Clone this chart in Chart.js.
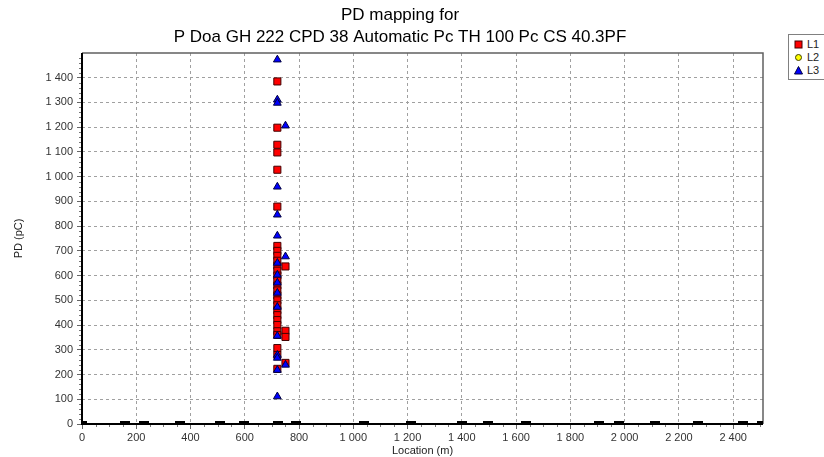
<!DOCTYPE html>
<html>
<head>
<meta charset="utf-8">
<script src="https://cdn.jsdelivr.net/npm/chart.js@4/dist/chart.umd.min.js"></script>
<style>
  html, body { margin: 0; padding: 0; background: #fff; overflow: hidden; }
  #wrap { position: relative; width: 824px; height: 457px; }
  #legend { position: absolute; left: 788px; top: 34px; width: 40px; height: 46px;
            border: 1px solid #808080; background: #fff; box-sizing: border-box;
            font: 11px "Liberation Sans", Arial, sans-serif; color: #222; }
  .item { position: absolute; left: 0; height: 13px; line-height: 13px; }
  .item svg { position: absolute; left: 5px; top: 2px; }
  .item span { position: absolute; left: 18px; top: 0; }
</style>
</head>
<body>
<div id="wrap">
  <canvas id="c" width="824" height="457"></canvas>
  <div id="legend">
    <div class="item" style="top:3px"><svg width="9" height="9"><rect x="1" y="1" width="7" height="7" fill="#ff0000" stroke="#400000" stroke-width="1"/></svg><span>L1</span></div>
    <div class="item" style="top:16px"><svg width="9" height="9"><circle cx="4.5" cy="4.5" r="3" fill="#ffff00" stroke="#404000" stroke-width="1"/></svg><span>L2</span></div>
    <div class="item" style="top:29px"><svg width="9" height="9"><polygon points="4.5,0.5 8.5,8 0.5,8" fill="#0000ff" stroke="#000040" stroke-width="1"/></svg><span>L3</span></div>
  </div>
</div>
<script>
// ---- data ----
const chartTitle = ['PD mapping for', 'P Doa GH 222 CPD 38 Automatic Pc TH 100 Pc CS 40.3PF'];
const xAxisTitle = 'Location (m)';
const yAxisTitle = 'PD (pC)';
const xTickValues = [0, 200, 400, 600, 800, 1000, 1200, 1400, 1600, 1800, 2000, 2200, 2400];
const yTickValues = [0, 100, 200, 300, 400, 500, 600, 700, 800, 900, 1000, 1100, 1200, 1300, 1400];

const l1Location = [720, 720, 720, 720, 720, 720, 720, 720, 720, 720, 720, 720, 720, 720, 720, 720, 720, 720, 720, 720, 720, 720, 720, 720, 720, 720, 720, 720, 750, 750, 750, 750];
const l1PD       = [1385, 1198, 1129, 1098, 1028, 879, 720, 700, 680, 660, 640, 620, 600, 580, 560, 540, 520, 500, 480, 460, 440, 420, 400, 375, 360, 307, 279, 223, 637, 377, 352, 247];

const l2Location = [];
const l2PD       = [];

const l3Location = [720, 720, 720, 720, 720, 720, 720, 720, 720, 720, 720, 720, 720, 720, 720, 720, 750, 750, 750];
const l3PD       = [1473, 1311, 1298, 959, 846, 761, 651, 603, 571, 530, 473, 356, 279, 267, 218, 111, 1206, 677, 239];

const axisMarkLocation = [0, 159, 227, 362, 510, 597, 724, 788, 1038, 1211, 1400, 1497, 1638, 1906, 1980, 2113, 2271, 2437, 2505];

// ---- helpers ----
const FONT = '"Liberation Sans", Arial, sans-serif';
function fmt(v) { return String(v).replace(/\B(?=(\d{3})+(?!\d))/g, ' '); }
function pts(xs, ys) { return xs.map((x, i) => ({ x: x, y: ys[i] })); }

const mark = document.createElement('canvas');
mark.width = 10; mark.height = 6;
const mctx = mark.getContext('2d');
mctx.fillStyle = '#000'; mctx.fillRect(0, 0, 10, 6);

const framePlugin = {
  id: 'frame',
  beforeDatasetsDraw(chart) {
    const { ctx, chartArea: a, scales } = chart;
    const xs = scales.x, ys = scales.y;
    ctx.save();
    // minor ticks
    ctx.strokeStyle = '#777'; ctx.lineWidth = 1;
    ctx.beginPath();
    for (let v = 0; v <= 1500; v += 20) {
      if (v % 100 === 0) continue;
      const y = Math.round(ys.getPixelForValue(v)) + 0.5;
      ctx.moveTo(a.left - 3, y); ctx.lineTo(a.left, y);
    }
    for (let v = 0; v <= 2510; v += 50) {
      if (v % 200 === 0) continue;
      const x = Math.round(xs.getPixelForValue(v)) + 0.5;
      ctx.moveTo(x, a.bottom); ctx.lineTo(x, a.bottom + 3);
    }
    ctx.stroke();
    // top & right border
    ctx.strokeStyle = '#606060'; ctx.lineWidth = 1.5;
    ctx.beginPath();
    ctx.moveTo(a.left, a.top); ctx.lineTo(a.right, a.top); ctx.lineTo(a.right, a.bottom);
    ctx.stroke();
    // left & bottom axis
    ctx.strokeStyle = '#000'; ctx.lineWidth = 2;
    ctx.beginPath();
    ctx.moveTo(a.left, a.top); ctx.lineTo(a.left, a.bottom); ctx.lineTo(a.right, a.bottom);
    ctx.stroke();
    ctx.restore();
  }
};

new Chart(document.getElementById('c'), {
  type: 'scatter',
  data: {
    datasets: [
      { label: 'L1', data: pts(l1Location, l1PD), pointStyle: 'rect', pointRadius: 5,
        backgroundColor: '#ff0000', borderColor: '#400000', borderWidth: 1, order: 2 },
      { label: 'L2', data: pts(l2Location, l2PD), pointStyle: 'circle', pointRadius: 3,
        backgroundColor: '#ffff00', borderColor: '#404000', borderWidth: 1, order: 1 },
      { label: 'L3', data: pts(l3Location, l3PD), pointStyle: 'triangle', pointRadius: 4.5,
        backgroundColor: '#0000ff', borderColor: '#000040', borderWidth: 1, order: 0 },
      { label: 'marks', data: axisMarkLocation.map(x => ({ x: x, y: 0 })), pointStyle: mark,
        pointRadius: 5, clip: 0, order: 3 }
    ]
  },
  options: {
    responsive: false,
    animation: false,
    events: [],
    layout: { padding: { left: 0, right: 24, top: 0, bottom: 0 } },
    plugins: {
      legend: { display: false },
      tooltip: { enabled: false },
      title: {
        display: true, text: chartTitle, color: '#000',
        font: { family: FONT, size: 17, weight: 'normal', lineHeight: 1.25 },
        padding: { top: 5, bottom: 5.5 }
      }
    },
    scales: {
      x: {
        type: 'linear', min: 0, max: 2510,
        afterBuildTicks: s => { s.ticks = xTickValues.map(v => ({ value: v })); },
        afterFit: s => { s.height = 33; },
        ticks: { callback: v => fmt(v), color: '#333', font: { family: FONT, size: 11 },
                 padding: 2, maxRotation: 0, autoSkip: false },
        grid: { color: '#a0a0a0', lineWidth: 1, tickLength: 5, tickColor: '#666',
                tickBorderDash: [] },
        border: { display: false, dash: [3, 3] },
        title: { display: true, text: xAxisTitle, color: '#222',
                 font: { family: FONT, size: 11 }, padding: { top: 0, bottom: -1 } }
      },
      y: {
        type: 'linear', min: 0, max: 1500,
        afterBuildTicks: s => { s.ticks = yTickValues.map(v => ({ value: v })); },
        afterFit: s => { s.width = 82; },
        ticks: { callback: v => fmt(v), color: '#333', font: { family: FONT, size: 11 },
                 padding: 4, autoSkip: false },
        grid: { color: '#a0a0a0', lineWidth: 1, tickLength: 5, tickColor: '#666',
                tickBorderDash: [] },
        border: { display: false, dash: [3, 3] },
        title: { display: true, text: yAxisTitle, color: '#222',
                 font: { family: FONT, size: 11 }, padding: { top: 12, bottom: 0 } }
      },
      yR: {
        type: 'linear', position: 'right', display: true,
        afterFit: s => { s.width = 37; },
        grid: { display: false, drawTicks: false },
        ticks: { display: false },
        border: { display: false }
      }
    }
  },
  plugins: [framePlugin]
});
</script>
</body>
</html>
